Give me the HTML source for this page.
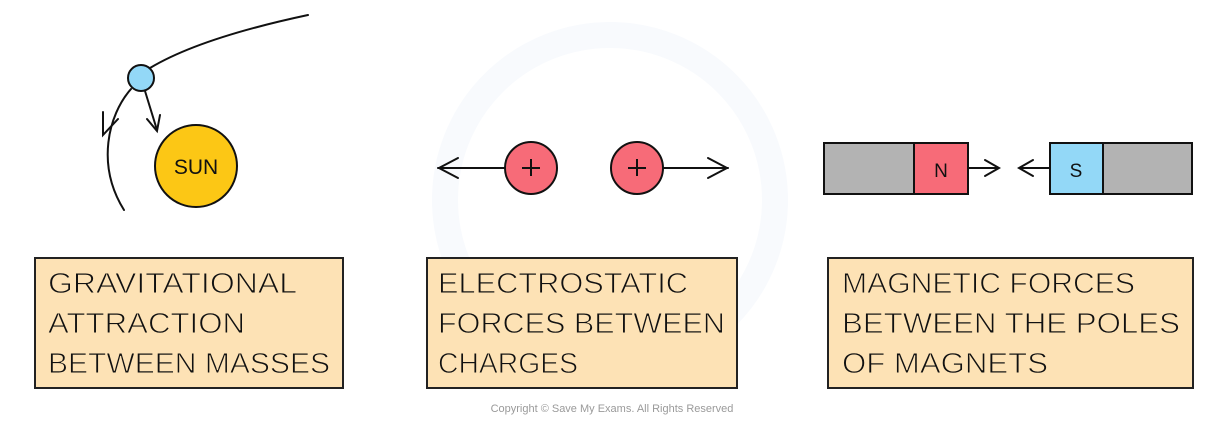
<!DOCTYPE html>
<html><head><meta charset="utf-8"><style>
html,body{margin:0;padding:0;background:#fff;width:1226px;height:421px;overflow:hidden}
svg{display:block}
text{font-family:"Liberation Sans",sans-serif}
</style></head><body>
<svg width="1226" height="421" viewBox="0 0 1226 421" xmlns="http://www.w3.org/2000/svg">
<!-- faint watermark -->
<circle cx="610" cy="200" r="165" fill="none" stroke="#f8fafd" stroke-width="26"/>
<!-- gravity -->
<g fill="none" stroke="#111" stroke-width="2" stroke-linecap="round">
<path d="M308,15 Q200,38 150,68"/>
<path d="M131,89 C108,115 96,165 124,210"/>
<path d="M103,112 L103,135 L118,119"/>
<path d="M145,91 L157,130"/>
<path d="M147,119 L157,131 L160,115"/>
</g>
<circle cx="141" cy="78" r="13" fill="#93d8f7" stroke="#111" stroke-width="2"/>
<circle cx="196" cy="166" r="41" fill="#fcc715" stroke="#111" stroke-width="2"/>
<text x="196" y="174" font-size="21" text-anchor="middle" fill="#111">SUN</text>
<!-- electrostatic -->
<g fill="none" stroke="#111" stroke-width="2" stroke-linecap="round">
<path d="M438,168 L505,168"/><path d="M458,158 L439,168 L458,178"/>
<path d="M663,168 L728,168"/><path d="M708,158 L727,168 L708,178"/>
</g>
<circle cx="531" cy="168" r="26" fill="#f76b78" stroke="#111" stroke-width="2"/>
<circle cx="637" cy="168" r="26" fill="#f76b78" stroke="#111" stroke-width="2"/>
<g stroke="#111" stroke-width="2"><path d="M531,159 V176 M522,168 H540"/><path d="M637,159 V176 M628,168 H646"/></g>
<!-- magnets -->
<rect x="824" y="143" width="90" height="51" fill="#b3b3b3" stroke="#111" stroke-width="2"/>
<rect x="914" y="143" width="54" height="51" fill="#f76b78" stroke="#111" stroke-width="2"/>
<text x="941" y="177" font-size="19" text-anchor="middle" fill="#111">N</text>
<rect x="1050" y="143" width="53" height="51" fill="#93d8f7" stroke="#111" stroke-width="2"/>
<rect x="1103" y="143" width="89" height="51" fill="#b3b3b3" stroke="#111" stroke-width="2"/>
<text x="1076" y="177" font-size="19" text-anchor="middle" fill="#111">S</text>
<g fill="none" stroke="#111" stroke-width="2" stroke-linecap="round">
<path d="M968,168 L998,168"/><path d="M985,160 L999,168 L985,176"/>
<path d="M1020,168 L1050,168"/><path d="M1033,160 L1019,168 L1033,176"/>
</g>
<!-- boxes -->
<g fill="#fde2b5" stroke="#222" stroke-width="2">
<rect x="35" y="258" width="308" height="130"/>
<rect x="427" y="258" width="310" height="130"/>
<rect x="828" y="258" width="365" height="130"/>
</g>
<g font-size="29" fill="#111" stroke="#fde2b5" stroke-width="0.9" paint-order="fill">
<text x="48" y="293" textLength="249" lengthAdjust="spacingAndGlyphs">GRAVITATIONAL</text>
<text x="48" y="333" textLength="197" lengthAdjust="spacingAndGlyphs">ATTRACTION</text>
<text x="48" y="373" textLength="282" lengthAdjust="spacingAndGlyphs">BETWEEN  MASSES</text>
<text x="438" y="293" textLength="250" lengthAdjust="spacingAndGlyphs">ELECTROSTATIC</text>
<text x="438" y="333" textLength="287" lengthAdjust="spacingAndGlyphs">FORCES  BETWEEN</text>
<text x="438" y="373" textLength="140" lengthAdjust="spacingAndGlyphs">CHARGES</text>
<text x="842" y="293" textLength="293" lengthAdjust="spacingAndGlyphs">MAGNETIC  FORCES</text>
<text x="842" y="333" textLength="338" lengthAdjust="spacingAndGlyphs">BETWEEN  THE  POLES</text>
<text x="842" y="373" textLength="206" lengthAdjust="spacingAndGlyphs">OF  MAGNETS</text>
</g>
<text x="612" y="412" font-size="11" fill="#9a9a9a" text-anchor="middle">Copyright © Save My Exams. All Rights Reserved</text>
</svg>
</body></html>
